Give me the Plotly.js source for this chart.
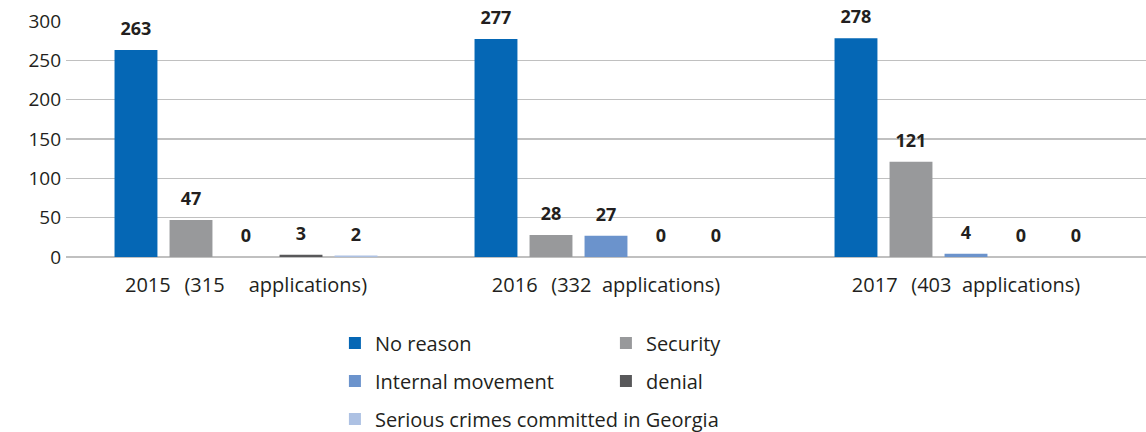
<!DOCTYPE html>
<html><head><meta charset="utf-8">
<script src="https://cdn.plot.ly/plotly-3.0.1.min.js"></script>
<style>body{margin:0;background:#fff}#c{width:1146px;height:432px}</style>
</head><body><div id="c"></div>
<script>
var categories = [
  "2015\u00A0\u00A0\u2009(315\u00A0\u00A0\u00A0\u00A0\u2009applications)",
  "2016\u00A0\u00A0\u2009(332\u00A0\u00A0applications)",
  "2017\u00A0\u00A0\u2009(403\u00A0\u00A0applications)"
];
var seriesNames = ["No reason", "Security", "Internal movement", "denial", "Serious crimes committed in Georgia"];
var noReason = [263, 277, 278];
var security = [47, 28, 121];
var internalMovement = [0, 27, 4];
var denial = [3, 0, 0];
var seriousCrimes = [2, 0, 0];
var colors = ["#0567B5", "#98999B", "#6B93CC", "#58585A", "#ADC1E3"];
var legendIds = ["legend", "legend", "legend2", "legend2", "legend3"];

var values = [noReason, security, internalMovement, denial, seriousCrimes];
var font = "Open Sans, Noto Sans, sans-serif";
var traces = values.map(function(v, i){
  return {
    type: "bar", name: seriesNames[i], x: categories, y: v,
    marker: {color: colors[i]}, offsetgroup: "g" + i,
    legend: legendIds[i]
  };
});
var labels = values.map(function(v, i){
  return {
    type: "scatter", mode: "markers+text", x: categories, y: v, offsetgroup: "g" + i,
    text: v.map(String), textposition: "top center", cliponaxis: false,
    marker: {size: 15, color: "rgba(0,0,0,0)", line: {width: 0}},
    textfont: {family: font, size: 18, color: "#231F20", weight: "bold"},
    showlegend: false, hoverinfo: "skip"
  };
});
function leg(y, w){
  return {orientation: "h", x: 0.249, xanchor: "left", y: y, yanchor: "middle",
    entrywidth: w, entrywidthmode: "pixels",
    font: {family: font, size: 20, color: "#231F20"}, bgcolor: "rgba(0,0,0,0)"};
}
var layout = {
  width: 1146, height: 432,
  margin: {l: 66, r: 0, t: 21, b: 175, autoexpand: false},
  paper_bgcolor: "#fff", plot_bgcolor: "#fff",
  barmode: "group", bargap: 0.236, bargroupgap: 0.22,
  scattermode: "group", scattergap: 0.236,
  showlegend: true,
  legend: leg(-0.364, 226), legend2: leg(-0.525, 226), legend3: leg(-0.686, 420),
  xaxis: {type: "category", tickfont: {family: font, size: 20, color: "#231F20"}, ticks: "", showline: false, showgrid: false, ticklabelstandoff: 14},
  yaxis: {range: [0, 300], dtick: 50, tickfont: {family: font, size: 19, color: "#231F20"},
    gridcolor: "#C0C0C0", gridwidth: 1.5, zeroline: true, zerolinecolor: "#C0C0C0", zerolinewidth: 1.5, ticks: "", ticklabelstandoff: 4, showline: false},
  font: {family: font}
};
Plotly.newPlot("c", traces.concat(labels), layout, {displayModeBar: false, staticPlot: true});
</script></body></html>
